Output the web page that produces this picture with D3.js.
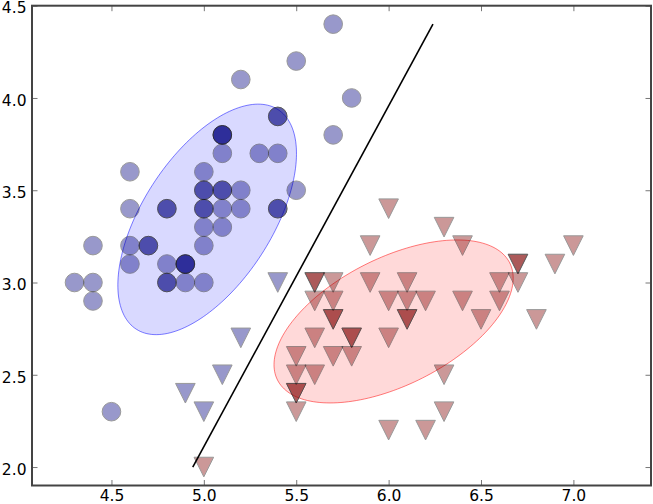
<!DOCTYPE html>
<html>
<head>
<meta charset="utf-8">
<script src="https://cdn.jsdelivr.net/npm/d3@7"></script>
<style>
  body { margin: 0; background: #fff; }
  .tick text { font-family: "DejaVu Sans", sans-serif; font-size: 15.5px; fill: #000; }
  .tick line { stroke: #777; }
</style>
</head>
<body>
<svg id="chart" width="653" height="504"></svg>
<script>
// iris, first two classes: sepal length (x) and sepal width (y)
const setosaX = [5.1,4.9,4.7,4.6,5.0,5.4,4.6,5.0,4.4,4.9,5.4,4.8,4.8,4.3,5.8,5.7,5.4,5.1,5.7,5.1,
                 5.4,5.1,4.6,5.1,4.8,5.0,5.0,5.2,5.2,4.7,4.8,5.4,5.2,5.5,4.9,5.0,5.5,4.9,4.4,5.1,
                 5.0,4.5,4.4,5.0,5.1,4.8,5.1,4.6,5.3,5.0];
const setosaY = [3.5,3.0,3.2,3.1,3.6,3.9,3.4,3.4,2.9,3.1,3.7,3.4,3.0,3.0,4.0,4.4,3.9,3.5,3.8,3.8,
                 3.4,3.7,3.6,3.3,3.4,3.0,3.4,3.5,3.4,3.2,3.1,3.4,4.1,4.2,3.1,3.2,3.5,3.1,3.0,3.4,
                 3.5,2.3,3.2,3.5,3.8,3.0,3.8,3.2,3.7,3.3];
const versiX = [7.0,6.4,6.9,5.5,6.5,5.7,6.3,4.9,6.6,5.2,5.0,5.9,6.0,6.1,5.6,6.7,5.6,5.8,6.2,5.6,
                5.9,6.1,6.3,6.1,6.4,6.6,6.8,6.7,6.0,5.7,5.5,5.5,5.8,6.0,5.4,6.0,6.7,6.3,5.6,5.5,
                5.5,6.1,5.8,5.0,5.6,5.7,5.7,6.2,5.1,5.7];
const versiY = [3.2,3.2,3.1,2.3,2.8,2.8,3.3,2.4,2.9,2.7,2.0,3.0,2.2,2.9,2.9,3.1,3.0,2.7,2.2,2.5,
                3.2,2.8,2.5,2.8,2.9,3.0,2.8,3.0,2.9,2.6,2.4,2.4,2.7,2.7,3.0,3.4,3.1,2.3,3.0,2.5,
                2.6,3.0,2.6,2.3,2.7,3.0,2.9,2.9,2.5,2.8];
// predicted class for the versicolor points (0 = setosa side of the boundary)
const versiPred = [1,1,1,1,1,1,1,0,1,0,1,1,1,1,1,1,1,1,1,1,
                   1,1,1,1,1,1,1,1,1,1,1,1,1,1,0,1,1,1,1,1,
                   1,1,1,0,1,1,1,1,0,1];

// covariance ellipses: centre, semi axes, angle (deg)
const ellCx = [5.018, 6.027];
const ellCy = [3.342, 2.789];
const ellA = [0.708, 0.704];
const ellB = [0.350, 0.344];
const ellAngle = [57.2, 26.8];
const ellColor = ["blue", "red"];

// decision boundary
const boundaryX = [4.94, 6.24];
const boundaryY = [2.0, 4.4];

const xTicks = [4.5, 5.0, 5.5, 6.0, 6.5, 7.0];
const yTicks = [2.0, 2.5, 3.0, 3.5, 4.0, 4.5];

const classColor = ["#000080", "#800000"];

let svg = d3.select("#chart");
let plotLeft = 32, plotRight = 651, plotTop = 5.7, plotBottom = 485.5;

let xScale = d3.scaleLinear().domain([4.07, 7.42]).range([plotLeft, plotRight]);
let yScale = d3.scaleLinear().domain([1.9, 4.5]).range([plotBottom, plotTop]);

// ellipses
let line = d3.line().x(d => xScale(d[0])).y(d => yScale(d[1])).curve(d3.curveLinearClosed);
ellCx.forEach((cx, i) => {
    let th = ellAngle[i] * Math.PI / 180;
    let pts = d3.range(0, 360, 2).map(t => {
        let r = t * Math.PI / 180;
        let ex = ellA[i] * Math.cos(r), ey = ellB[i] * Math.sin(r);
        return [cx + ex * Math.cos(th) - ey * Math.sin(th),
                ellCy[i] + ex * Math.sin(th) + ey * Math.cos(th)];
    });
    svg.append("path")
       .attr("d", line(pts))
       .attr("fill", ellColor[i])
       .attr("fill-opacity", 0.15)
       .attr("stroke", ellColor[i])
       .attr("stroke-opacity", 0.5)
       .attr("stroke-width", 1);
});

// points
let setosa = setosaX.map((x, i) => ({x: x, y: setosaY[i], pred: 0}));
let versi = versiX.map((x, i) => ({x: x, y: versiY[i], pred: versiPred[i]}));

svg.append("g").selectAll("circle")
   .data(setosa)
   .enter()
   .append("circle")
   .attr("cx", d => xScale(d.x))
   .attr("cy", d => yScale(d.y))
   .attr("r", 9.3)
   .attr("fill", d => classColor[d.pred])
   .attr("stroke", "#000")
   .attr("stroke-width", 1)
   .attr("opacity", 0.4);

let tri = 9.8;
svg.append("g").selectAll("path")
   .data(versi)
   .enter()
   .append("path")
   .attr("d", d => {
       let cx = xScale(d.x), cy = yScale(d.y);
       return "M" + (cx - tri) + "," + (cy - tri) + "L" + (cx + tri) + "," + (cy - tri) +
              "L" + cx + "," + (cy + tri) + "Z";
   })
   .attr("fill", d => classColor[d.pred])
   .attr("stroke", "#000")
   .attr("stroke-width", 1)
   .attr("stroke-linejoin", "miter")
   .attr("opacity", 0.4);

// boundary line
svg.append("line")
   .attr("x1", xScale(boundaryX[0])).attr("y1", yScale(boundaryY[0]))
   .attr("x2", xScale(boundaryX[1])).attr("y2", yScale(boundaryY[1]))
   .attr("stroke", "#000")
   .attr("stroke-width", 1.6);

// axes, ticks pointing inwards on all four sides
let fmt = d3.format(".1f");
let xAxis = svg.append("g")
   .attr("transform", "translate(0," + plotBottom + ")")
   .call(d3.axisBottom(xScale).tickValues(xTicks).tickFormat(fmt).tickSize(-5.5));
xAxis.selectAll("text").attr("y", 15.5).attr("dy", 0);

svg.append("g")
   .attr("transform", "translate(0," + plotTop + ")")
   .call(d3.axisTop(xScale).tickValues(xTicks).tickFormat("").tickSize(-5.5));

let yAxis = svg.append("g")
   .attr("transform", "translate(" + plotLeft + ",0)")
   .call(d3.axisLeft(yScale).tickValues(yTicks).tickFormat(fmt).tickSize(-5.5));
yAxis.selectAll("text").attr("x", -5.5).attr("dy", "0.47em");

svg.append("g")
   .attr("transform", "translate(" + plotRight + ",0)")
   .call(d3.axisRight(yScale).tickValues(yTicks).tickFormat("").tickSize(-5.5));

svg.selectAll(".domain").remove();

// frame
svg.append("rect")
   .attr("x", plotLeft).attr("y", plotTop)
   .attr("width", plotRight - plotLeft).attr("height", plotBottom - plotTop)
   .attr("fill", "none")
   .attr("stroke", "#444")
   .attr("stroke-width", 2);
</script>
</body>
</html>
